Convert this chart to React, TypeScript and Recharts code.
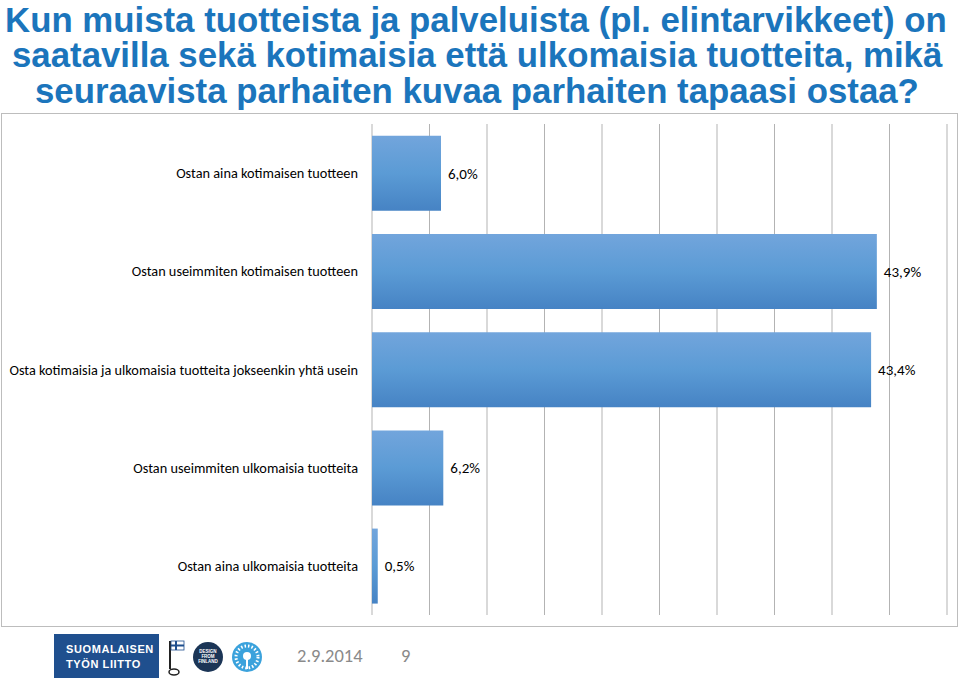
import { BarChart, Bar, XAxis, YAxis, CartesianGrid, LabelList } from "recharts";

const titleLines = [
  "Kun muista tuotteista ja palveluista (pl. elintarvikkeet) on",
  "saatavilla sekä kotimaisia että ulkomaisia tuotteita, mikä",
  "seuraavista parhaiten kuvaa parhaiten tapaasi ostaa?",
];

const answers = [
  "Ostan aina kotimaisen tuotteen",
  "Ostan useimmiten kotimaisen tuotteen",
  "Osta kotimaisia ja ulkomaisia tuotteita jokseenkin yhtä usein",
  "Ostan useimmiten ulkomaisia tuotteita",
  "Ostan aina ulkomaisia tuotteita",
];
const shares = [6.0, 43.9, 43.4, 6.2, 0.5];
const xTicks = [0, 5, 10, 15, 20, 25, 30, 35, 40, 45, 50];
const boundaryTicks = [0, 1, 2, 3, 4, 5];

const footerDate = "2.9.2014";
const pageNo = "9";

const data = answers.map((name, i) => ({ name, value: shares[i] }));

const labelFont = "Carlito, Lato, sans-serif";
const fmt = (v: any) => Number(v).toFixed(1).replace(".", ",") + "%";

// tekstit yhdelle riville, ei rivitystä
const CategoryTick = (props: any) => {
  const { x, y, payload } = props;
  return (
    <text x={x} y={y} dy="0.355em" textAnchor="end" fill="#000" fontSize={14.3} fontFamily={labelFont}>
      {payload.value}
    </text>
  );
};

const Logos = () => (
  <svg width={260} height={46} style={{ position: "absolute", left: 50, top: 633 }}>
    <rect x={4} y={1} width={105} height={44} fill="#1f4f8e" />
    <text x={16} y={20} fill="#fff" fontFamily="Arial, sans-serif" fontWeight="bold" fontSize={11} letterSpacing={0.6}>
      SUOMALAISEN
    </text>
    <text x={16} y={35} fill="#fff" fontFamily="Arial, sans-serif" fontWeight="bold" fontSize={11} letterSpacing={0.6}>
      TYÖN LIITTO
    </text>
    {/* avainlippu */}
    <line x1={120} y1={8} x2={120} y2={36} stroke="#222" strokeWidth={2} />
    <ellipse cx={124} cy={39} rx={5} ry={3} fill="none" stroke="#222" strokeWidth={1.5} />
    <rect x={121} y={8} width={13} height={9} fill="#fff" stroke="#1f4f8e" strokeWidth={0.8} />
    <rect x={121} y={11.5} width={13} height={2} fill="#1f4f8e" />
    <rect x={125} y={8} width={2} height={9} fill="#1f4f8e" />
    {/* design from finland */}
    <circle cx={158} cy={24} r={15} fill="#1b3556" />
    <text x={158} y={20} fill="#fff" fontFamily="Arial, sans-serif" fontWeight="bold" fontSize={4.5} textAnchor="middle">DESIGN</text>
    <text x={158} y={25} fill="#fff" fontFamily="Arial, sans-serif" fontWeight="bold" fontSize={4.5} textAnchor="middle">FROM</text>
    <text x={158} y={30} fill="#fff" fontFamily="Arial, sans-serif" fontWeight="bold" fontSize={4.5} textAnchor="middle">FINLAND</text>
    {/* aurinko */}
    <circle cx={197} cy={24} r={15} fill="#3ba2dc" />
    <circle cx={197} cy={24} r={11} fill="none" stroke="#fff" strokeWidth={3} strokeDasharray="1.5 2" />
    <circle cx={197} cy={23} r={4} fill="#fff" />
    <rect x={196} y={26} width={2} height={10} fill="#fff" />
  </svg>
);

const App = () => {
  return (
    <div style={{ position: "absolute", left: 0, top: 0, width: 960, height: 680, background: "#fff", overflow: "hidden" }}>
      <div
        style={{
          position: "absolute",
          left: 0,
          top: 1.5,
          width: 960,
          fontFamily: "'Liberation Sans', Arial, sans-serif",
          fontWeight: "bold",
          fontSize: 34.8,
          lineHeight: "35.5px",
          color: "#1b75bc",
          whiteSpace: "nowrap",
        }}
      >
        <div style={{ marginLeft: 5 }}>{titleLines[0]}</div>
        <div style={{ marginLeft: 12 }}>{titleLines[1]}</div>
        <div style={{ marginLeft: 35 }}>{titleLines[2]}</div>
      </div>

      <div
        style={{
          position: "absolute",
          left: 1,
          top: 113,
          width: 955,
          height: 512,
          border: "1px solid #bdbdbd",
          background: "#fff",
        }}
      />

      <div style={{ position: "absolute", left: 0, top: 113 }}>
        <BarChart
          width={958}
          height={514}
          data={data}
          layout="vertical"
          margin={{ top: 11, right: 11, bottom: 12, left: 0 }}
          barCategoryGap="12%"
        >
          <defs>
            <linearGradient id="barFill" x1="0" y1="0" x2="0" y2="1">
              <stop offset="0%" stopColor="#72a5dc" />
              <stop offset="50%" stopColor="#5b9bd5" />
              <stop offset="100%" stopColor="#4683c4" />
            </linearGradient>
          </defs>
          <CartesianGrid horizontal={false} stroke="#b3b3b3" yAxisId="cat" />
          <XAxis type="number" domain={[0, 50]} ticks={xTicks} hide />
          <YAxis
            yAxisId="bounds"
            type="number"
            domain={[0, 5]}
            ticks={boundaryTicks}
            width={0}
            tick={false}
            tickSize={5}
            tickLine={{ stroke: "#8c8c8c" }}
            axisLine={{ stroke: "#8c8c8c" }}
          />
          <YAxis
            yAxisId="cat"
            type="category"
            dataKey="name"
            width={372}
            axisLine={false}
            tickLine={false}
            tickSize={0}
            tickMargin={14}
            tick={<CategoryTick />}
            interval={0}
          />
          <Bar dataKey="value" yAxisId="cat" fill="url(#barFill)" isAnimationActive={false}>
            <LabelList
              dataKey="value"
              position="right"
              offset={7}
              formatter={fmt}
              style={{ fill: "#000", fontSize: 15, fontFamily: labelFont }}
            />
          </Bar>
        </BarChart>
      </div>

      <Logos />
      <div
        style={{
          position: "absolute",
          left: 297,
          top: 644,
          fontFamily: labelFont,
          fontSize: 18.5,
          color: "#8a8a8a",
        }}
      >
        {footerDate}
      </div>
      <div
        style={{
          position: "absolute",
          left: 401,
          top: 644,
          fontFamily: labelFont,
          fontSize: 18.5,
          color: "#8a8a8a",
        }}
      >
        {pageNo}
      </div>
    </div>
  );
};

export default App;
